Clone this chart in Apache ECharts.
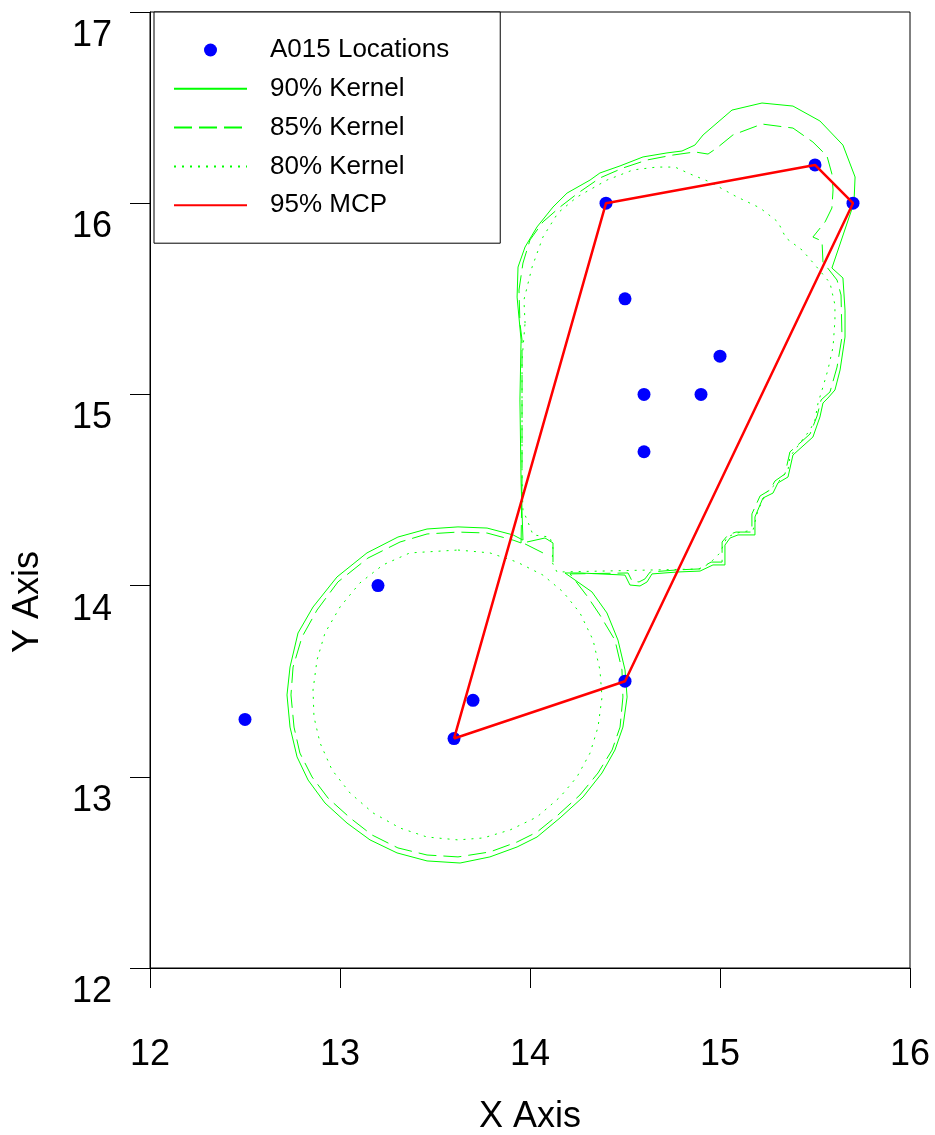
<!DOCTYPE html>
<html>
<head>
<meta charset="utf-8">
<script src="https://cdn.jsdelivr.net/npm/echarts@6/dist/echarts.min.js"></script>
<style>
  html, body { margin: 0; padding: 0; background: #ffffff; }
  #chart { width: 935px; height: 1135px; }
</style>
</head>
<body>
<div id="chart"></div>
<script>
// Axis ranges and tick step
const xRange = [12, 16];
const yRange = [12, 17];
const tickStep = 1;

// Animal fixes
const locations = [
  [12.5, 13.3], [13.2, 14.0], [13.6, 13.2], [13.7, 13.4], [14.5, 13.5],
  [14.4, 16.0], [14.5, 15.5], [14.6, 15.0], [14.6, 14.7], [14.9, 15.0],
  [15.0, 15.2], [15.5, 16.2], [15.7, 16.0]
];

// 95% minimum convex polygon (closed)
const mcp95 = [
  [13.6, 13.2], [14.4, 16.0], [15.5, 16.2], [15.7, 16.0], [14.5, 13.5], [13.6, 13.2]
];

// 90% kernel isopleth: northern lobe joined to the southern ring
const kernel90 = [
  [13.963,14.238],[13.958,14.385],[13.953,14.542],[13.947,14.971],[13.953,15.285],[13.932,15.509],
  [13.937,15.666],[13.974,15.771],[14.037,15.876],[14.121,15.980],[14.195,16.053],[14.316,16.121],
  [14.368,16.158],[14.474,16.195],[14.595,16.242],[14.721,16.263],[14.800,16.273],[14.868,16.304],
  [14.911,16.357],[15.063,16.487],[15.221,16.524],[15.384,16.508],[15.526,16.430],[15.647,16.304],
  [15.711,16.137],[15.705,16.001],[15.589,15.661],[15.647,15.609],[15.658,15.441],[15.658,15.300],
  [15.632,15.128],[15.605,15.023],[15.568,14.981],[15.542,14.955],[15.526,14.882],[15.489,14.777],
  [15.384,14.683],[15.358,14.568],[15.305,14.537],[15.279,14.484],[15.226,14.458],[15.184,14.359],
  [15.184,14.265],[15.095,14.265],[15.053,14.249],[15.026,14.212],[15.026,14.108],[14.963,14.108],
  [14.895,14.076],[14.774,14.071],[14.642,14.061],[14.616,14.019],[14.579,13.998],[14.526,14.003],
  [14.500,14.055],[14.263,14.066],[14.184,14.066],
  [14.326,13.967],[14.405,13.857],[14.463,13.715],[14.500,13.559],[14.511,13.417],[14.489,13.260],
  [14.447,13.140],[14.379,13.020],[14.279,12.894],[14.158,12.785],[14.037,12.685],[13.932,12.633],
  [13.789,12.581],[13.632,12.549],[13.458,12.560],[13.300,12.602],[13.158,12.670],[13.037,12.758],
  [12.921,12.863],[12.832,12.983],[12.774,13.104],[12.737,13.260],[12.721,13.428],[12.737,13.574],
  [12.779,13.752],[12.858,13.888],[12.984,14.045],[13.142,14.171],[13.305,14.254],[13.458,14.296],
  [13.621,14.307],[13.774,14.301],[13.911,14.265],[13.963,14.238]
];
// small fragments of the 90% line where the two lobes meet
const kernel90NotchA = [[13.984,14.228],[14.079,14.249],[14.121,14.223],[14.121,14.123]];
const kernel90NotchB = [[13.974,14.218],[14.068,14.171]];

// 85% kernel isopleth
const kernel85 = [
  [13.953,14.223],[13.958,14.552],[13.958,15.285],[13.947,15.373],[13.942,15.546],[13.963,15.687],
  [14.000,15.808],[14.068,15.902],[14.158,15.980],[14.253,16.053],[14.368,16.132],[14.489,16.184],
  [14.616,16.226],[14.753,16.252],[14.868,16.268],[14.937,16.257],[14.984,16.289],[15.068,16.357],
  [15.221,16.414],[15.384,16.393],[15.489,16.320],[15.563,16.247],[15.589,16.153],[15.595,16.069],
  [15.589,15.975],[15.553,15.902],[15.489,15.823],[15.537,15.802],[15.542,15.692],[15.616,15.598],
  [15.637,15.520],[15.642,15.300],[15.616,15.143],[15.579,15.013],[15.532,14.971],[15.511,14.887],
  [15.474,14.793],[15.368,14.699],[15.342,14.584],[15.289,14.547],[15.263,14.500],[15.211,14.469],
  [15.168,14.375],[15.168,14.280],[15.084,14.280],[15.042,14.265],[15.011,14.228],[15.011,14.123],
  [14.953,14.123],[14.889,14.087],[14.774,14.082],[14.632,14.071],[14.605,14.035],[14.574,14.019],
  [14.537,14.024],[14.516,14.066],[14.211,14.061],
  [14.300,13.946],[14.368,13.846],[14.447,13.715],[14.484,13.559],[14.489,13.417],[14.474,13.260],
  [14.432,13.140],[14.358,13.020],[14.263,12.905],[14.147,12.800],[14.037,12.711],[13.932,12.659],
  [13.789,12.607],[13.621,12.581],[13.458,12.591],[13.305,12.628],[13.168,12.696],[13.053,12.785],
  [12.937,12.889],[12.853,12.999],[12.789,13.124],[12.758,13.260],[12.742,13.428],[12.753,13.574],
  [12.800,13.731],[12.879,13.872],[12.989,14.019],[13.147,14.144],[13.316,14.228],[13.458,14.270],
  [13.621,14.280],[13.774,14.275],[13.911,14.238],[13.953,14.223]
];

// 80% kernel isopleth: two separate rings
const kernel80North = [
  [13.974,15.373],[13.968,15.494],[14.011,15.666],[14.068,15.823],[14.147,15.949],[14.247,16.032],
  [14.405,16.121],[14.542,16.174],[14.668,16.189],[14.763,16.189],[14.842,16.153],[14.947,16.111],
  [15.079,16.038],[15.211,15.975],[15.305,15.902],[15.347,15.818],[15.432,15.755],[15.500,15.677],
  [15.579,15.583],[15.605,15.468],[15.605,15.389],[15.595,15.248],[15.568,15.128],[15.542,15.039],
  [15.516,14.955],[15.500,14.866],[15.474,14.814],[15.421,14.746],[15.368,14.673],[15.358,14.605],
  [15.316,14.552],[15.247,14.490],[15.200,14.395],[15.174,14.291],[15.089,14.275],[15.037,14.254],
  [15.000,14.171],[14.947,14.118],[14.895,14.087],[14.142,14.071],[14.116,14.123],[14.121,14.197],
  [14.105,14.254],[14.016,14.265],[13.989,14.333],[13.963,14.395],[13.958,14.552],[13.958,15.180],
  [13.974,15.373]
];
const kernel80South = [
  [13.621,14.186],[13.789,14.171],[13.932,14.123],[14.068,14.055],[14.174,13.967],[14.263,13.857],
  [14.332,13.715],[14.368,13.559],[14.379,13.417],[14.358,13.260],[14.316,13.124],[14.247,12.999],
  [14.158,12.894],[14.037,12.790],[13.895,12.722],[13.753,12.680],[13.621,12.670],[13.458,12.685],
  [13.316,12.732],[13.174,12.811],[13.053,12.915],[12.958,13.036],[12.895,13.177],[12.863,13.313],
  [12.858,13.454],[12.879,13.611],[12.921,13.752],[13.000,13.888],[13.105,14.014],[13.226,14.108],
  [13.368,14.171],[13.621,14.186]
];

const seriesNames = ['A015 Locations', '90% Kernel', '85% Kernel', '80% Kernel', '95% MCP'];

const FONT = 'Liberation Sans, Arial, sans-serif';
const GREEN = '#00ff00';

function contour(name, data, type) {
  return {
    name: name,
    type: 'line',
    data: data,
    symbol: 'none',
    showSymbol: false,
    smooth: false,
    silent: true,
    z: 2,
    lineStyle: { color: GREEN, width: 1, type: type },
    itemStyle: { color: GREEN }
  };
}

// line entries in the legend show only their stroke, no marker
const legendData = seriesNames.map(function (n, i) {
  return i === 0 ? { name: n } : { name: n, itemStyle: { opacity: 0 } };
});

const chart = echarts.init(document.getElementById('chart'), null, { renderer: 'canvas' });

chart.setOption({
  animation: false,
  backgroundColor: '#ffffff',
  textStyle: { fontFamily: FONT },
  grid: {
    left: 150, right: 25, top: 12, bottom: 167,
    outerBoundsMode: 'none',
    containLabel: false,
    show: true, borderColor: '#000000', borderWidth: 1, backgroundColor: 'transparent'
  },
  legend: {
    orient: 'vertical',
    left: 154, top: 12,
    padding: [23, 51, 23, 19],
    itemGap: 8.8,
    itemWidth: 73,
    itemHeight: 13,
    borderColor: '#000000',
    borderWidth: 1,
    backgroundColor: '#ffffff',
    selectedMode: false,
    textStyle: { fontFamily: FONT, fontSize: 26, color: '#000000', lineHeight: 30, padding: [0, 0, 0, 18] },
    data: legendData
  },
  xAxis: {
    type: 'value',
    min: xRange[0], max: xRange[1], interval: tickStep,
    name: 'X Axis',
    nameLocation: 'middle',
    nameGap: 131,
    nameTextStyle: { fontFamily: FONT, fontSize: 36, color: '#000000' },
    axisLine: { show: true, onZero: false, lineStyle: { color: '#000000', width: 1 } },
    axisTick: { show: true, inside: false, length: 20, lineStyle: { color: '#000000', width: 1 } },
    axisLabel: { fontFamily: FONT, fontSize: 36, color: '#000000', margin: 69 },
    splitLine: { show: false }
  },
  yAxis: {
    type: 'value',
    min: yRange[0], max: yRange[1], interval: tickStep,
    axisLine: { show: true, onZero: false, lineStyle: { color: '#000000', width: 1 } },
    axisTick: { show: true, inside: false, length: 20, lineStyle: { color: '#000000', width: 1 } },
    axisLabel: {
      fontFamily: FONT, fontSize: 36, color: '#000000', margin: 38,
      verticalAlign: 'top', lineHeight: 48
    },
    splitLine: { show: false }
  },
  graphic: [{
    type: 'text',
    x: 28, y: 602,
    rotation: Math.PI / 2,
    style: {
      text: 'Y Axis',
      font: '36px ' + FONT,
      fill: '#000000',
      align: 'center',
      verticalAlign: 'middle'
    }
  }],
  series: [
    {
      name: seriesNames[0],
      type: 'scatter',
      data: locations,
      symbol: 'circle',
      symbolSize: 13,
      z: 3,
      itemStyle: { color: '#0000ff', opacity: 1 }
    },
    contour(seriesNames[1], kernel90, 'solid'),
    contour(seriesNames[1], kernel90NotchA, 'solid'),
    contour(seriesNames[1], kernel90NotchB, 'solid'),
    contour(seriesNames[2], kernel85, [18, 7]),
    contour(seriesNames[3], kernel80North, [2, 6]),
    contour(seriesNames[3], kernel80South, [2, 6]),
    {
      name: seriesNames[4],
      type: 'line',
      data: mcp95,
      symbol: 'none',
      showSymbol: false,
      z: 4,
      lineStyle: { color: '#ff0000', width: 2.5 },
      itemStyle: { color: '#ff0000' }
    }
  ]
});
</script>
</body>
</html>
